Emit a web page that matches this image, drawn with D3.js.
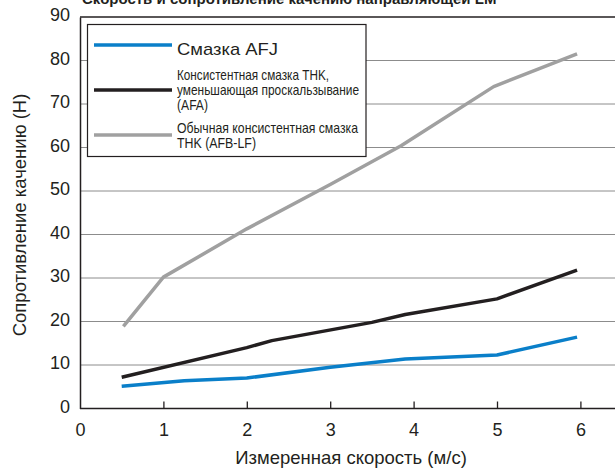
<!DOCTYPE html>
<html><head><meta charset="utf-8">
<script src="https://cdn.jsdelivr.net/npm/d3@7/dist/d3.min.js"></script>
<style>
body{margin:0;background:#fff;}
svg{display:block;font-family:Arial,"Liberation Sans",Helvetica,sans-serif;}
</style></head>
<body><svg id="c" width="615" height="468"></svg>
<script>
const title = "Скорость и сопротивление качению направляющей LM";
const xTitle = "Измеренная скорость (м/с)";
const yTitle = "Сопротивление качению (Н)";
const xTicks = [0,1,2,3,4,5,6];
const yTicks = [0,10,20,30,40,50,60,70,80,90];
const seriesNames = ["Смазка AFJ","Консистентная смазка THK, уменьшающая проскальзывание (AFA)","Обычная консистентная смазка THK (AFB-LF)"];
const afjX = [0.5,1.25,2.0,3.0,3.9,5.0,5.96];
const afjY = [5.1,6.4,7.0,9.5,11.4,12.3,16.4];
const afaX = [0.5,2.0,2.3,3.5,3.9,5.0,5.96];
const afaY = [7.2,14.0,15.6,19.8,21.6,25.2,31.8];
const afbX = [0.52,1.0,2.0,3.0,3.85,4.96,5.96];
const afbY = [18.9,30.2,41.3,51.5,60.4,74.0,81.5];
const colors = ["#0a7fc9","#231f20","#a0a0a0"];

const svg = d3.select("#c");
const x = d3.scaleLinear().domain([0,7]).range([80,80+7*83.4]);
const y = d3.scaleLinear().domain([0,90]).range([408.5,17]);

// title (cut off at top)
svg.append("text").attr("x",82).attr("y",4).attr("font-weight","bold")
  .attr("font-size",15).attr("fill","#231f20").text(title);

// grid lines
svg.append("g").selectAll("line").data(yTicks.filter(d=>d>0 && d<90)).join("line")
  .attr("x1",80).attr("x2",615).attr("y1",d=>y(d)).attr("y2",d=>y(d))
  .attr("stroke","#8c8c8c").attr("stroke-width",1);
// top line
svg.append("line").attr("x1",80).attr("x2",615).attr("y1",y(90)).attr("y2",y(90))
  .attr("stroke","#231f20").attr("stroke-width",1.3);

// y axis
const yAxis = d3.axisLeft(y).tickValues(yTicks).tickSize(0).tickPadding(10).tickFormat(d3.format("d"));
const gy = svg.append("g").attr("transform","translate(80,0)").call(yAxis);
gy.select(".domain").attr("stroke","#231f20").attr("stroke-width",1.5);
gy.selectAll("text").attr("font-size",18).attr("fill","#231f20")
  .attr("font-family","Arial,'Liberation Sans',sans-serif").attr("dy","0.2em");

// x axis
const xAxis = d3.axisBottom(x).tickValues(xTicks).tickSize(0).tickPadding(0).tickFormat(d3.format("d"));
const gx = svg.append("g").attr("transform","translate(0,408.5)").call(xAxis);
gx.select(".domain").attr("stroke","#231f20").attr("stroke-width",1.5).attr("d","M80,0H615");
gx.selectAll("text").attr("font-size",18).attr("fill","#231f20")
  .attr("font-family","Arial,'Liberation Sans',sans-serif").attr("dy",null).attr("y",27.5);
gx.selectAll(".tick").filter(d=>d>0).append("line").attr("y1",0).attr("y2",-7)
  .attr("stroke","#231f20").attr("stroke-width",1.3);

// axis titles
svg.append("text").attr("x",351).attr("y",464).attr("text-anchor","middle")
  .attr("font-size",18.5).attr("fill","#231f20").text(xTitle);
svg.append("text").attr("transform","translate(26,215) rotate(-90)").attr("text-anchor","middle")
  .attr("font-size",18.5).attr("fill","#231f20").text(yTitle);

// lines
const line = d3.line().x(d=>x(d[0])).y(d=>y(d[1]));
const data = [d3.zip(afjX,afjY), d3.zip(afaX,afaY), d3.zip(afbX,afbY)];
[2,1,0].forEach(i=>{
  svg.append("path").datum(data[i]).attr("d",line).attr("fill","none")
    .attr("stroke",colors[i]).attr("stroke-width",3.5).attr("stroke-linejoin","round");
});

// legend
const lg = svg.append("g");
lg.append("rect").attr("x",87.5).attr("y",24.5).attr("width",278.5).attr("height",132)
  .attr("fill","#fff").attr("stroke","#231f20").attr("stroke-width",1.2);
const legY = [45,90,135];
legY.forEach((ly,i)=>{
  lg.append("line").attr("x1",94).attr("x2",172).attr("y1",ly).attr("y2",ly)
    .attr("stroke",colors[i]).attr("stroke-width",3.5);
});
lg.append("text").attr("x",177).attr("y",55).attr("font-size",17).attr("fill","#231f20")
  .attr("textLength",101).attr("lengthAdjust","spacingAndGlyphs").text(seriesNames[0]);
const lines2 = [["Консистентная смазка THK,",79.5,152],["уменьшающая проскальзывание",94.5,182],["(AFA)",109.5,31]];
const lines3 = [["Обычная консистентная смазка",132.5,181],["THK (AFB-LF)",147.5,79]];
[...lines2,...lines3].forEach(([t,by,w])=>{
  lg.append("text").attr("x",177).attr("y",by).attr("font-size",14.5).attr("fill","#231f20")
    .attr("textLength",w).attr("lengthAdjust","spacingAndGlyphs").text(t);
});
</script></body></html>
